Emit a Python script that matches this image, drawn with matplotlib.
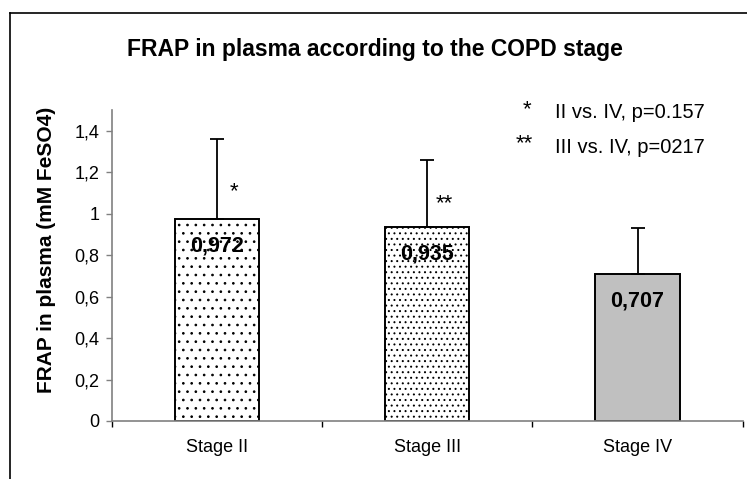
import matplotlib.pyplot as plt
from matplotlib.lines import Line2D

plt.rcParams['font.family'] = ['Liberation Sans', 'DejaVu Sans']
plt.rcParams['hatch.linewidth'] = 0.7

stages = ["Stage II", "Stage III", "Stage IV"]
frap_mean = [0.972, 0.935, 0.707]
frap_sd = [0.39, 0.325, 0.226]
value_labels = ["0,972", "0,935", "0,707"]
marks = ["*", "**", ""]
y_ticks = [0, 0.2, 0.4, 0.6, 0.8, 1.0, 1.2, 1.4]
y_tick_labels = ["0", "0,2", "0,4", "0,6", "0,8", "1", "1,2", "1,4"]
notes = [("*", "II vs. IV, p=0.157"), ("**", "III vs. IV, p=0217")]

fig = plt.figure(figsize=(7.47, 4.79), dpi=100)
ax = fig.add_axes([0.1495, 0.1211, 0.8447, 0.6493])

x = list(range(len(stages)))
hatches = ["..", "...", None]
faces = ["white", "white", "#c0c0c0"]
for i in x:
    ax.bar(i, frap_mean[i], width=0.4, color=faces[i], edgecolor="black",
           linewidth=1.4, hatch=hatches[i], zorder=2)
    ax.errorbar(i, frap_mean[i], yerr=[[0], [frap_sd[i]]], fmt="none",
                ecolor="black", elinewidth=1.3, capsize=5, capthick=1.3, zorder=3)
    ax.annotate(value_labels[i], (i, frap_mean[i]), xytext=(0, -19),
                textcoords="offset points", ha="center", va="center",
                fontsize=15.5, fontweight="bold", zorder=4)
    if marks[i]:
        ax.text(i + 0.08, frap_mean[i] + 0.135 - 0.02 * i, marks[i],
                ha="center", va="center", fontsize=16)

ax.set_xlim(-0.5, 2.5)
ax.set_ylim(0, 1.5)
ax.set_yticks(y_ticks)
ax.set_yticklabels(y_tick_labels, fontsize=13)
ax.set_xticks([-0.5, 0.5, 1.5, 2.5], minor=False)
ax.set_xticklabels([])
ax.set_xticks(x, minor=True)
ax.set_xticklabels(stages, minor=True, fontsize=13)
ax.tick_params(axis="x", which="minor", length=0, pad=13)
ax.tick_params(axis="x", which="major", length=4, color="black", width=1)
ax.tick_params(axis="y", length=4, color="#808080", width=1, pad=5)

for side in ["top", "right"]:
    ax.spines[side].set_visible(False)
for side in ["left", "bottom"]:
    ax.spines[side].set_color("#808080")
    ax.spines[side].set_linewidth(1.2)

fig.text(0.0616, 0.478, "FRAP in plasma (mM FeSO4)", rotation=90,
         ha="center", va="center", fontsize=15, fontweight="bold")

fig.text(0.502, 0.897, "FRAP in plasma according to the COPD stage",
         ha="center", va="center", fontsize=16.5, fontweight="bold")

# significance notes, upper right
fig.text(0.700, 0.772, notes[0][0], ha="left", va="center", fontsize=16)
fig.text(0.743, 0.766, notes[0][1], ha="left", va="center", fontsize=14.5)
fig.text(0.690, 0.699, notes[1][0], ha="left", va="center", fontsize=16)
fig.text(0.743, 0.693, notes[1][1], ha="left", va="center", fontsize=14.5)

# chart area frame: left and top edges only
fig.add_artist(Line2D([0.0134, 0.0134], [0.0, 0.973], color="black", lw=1.2))
fig.add_artist(Line2D([0.0134, 1.0], [0.973, 0.973], color="black", lw=1.2))

fig.savefig("out.png", dpi=100)
